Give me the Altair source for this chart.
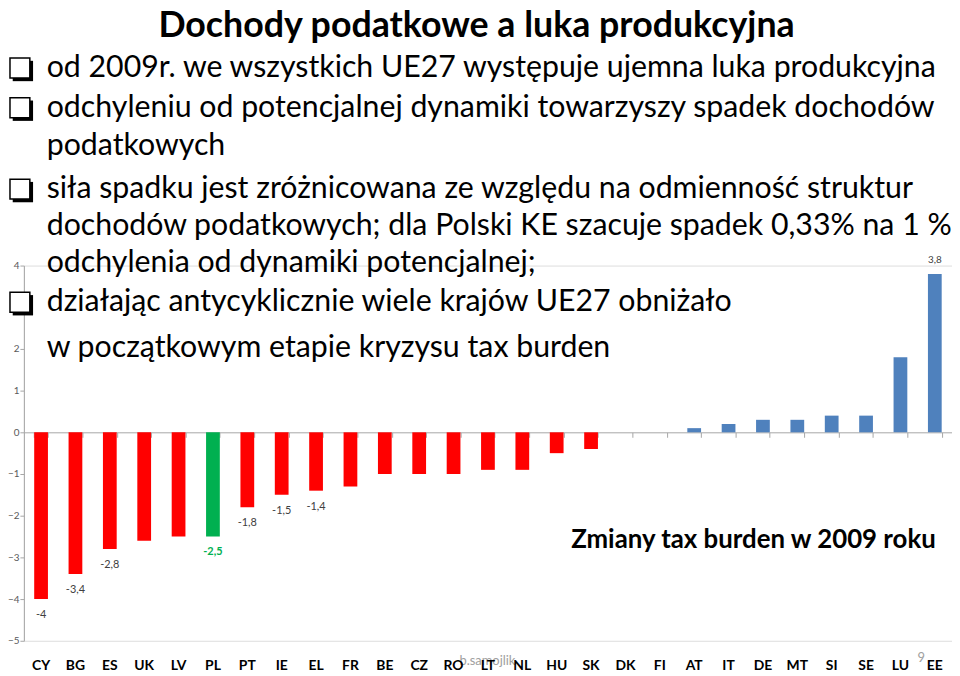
import altair as alt
import pandas as pd

countries = ["CY", "BG", "ES", "UK", "LV", "PL", "PT", "IE", "EL", "FR", "BE", "CZ", "RO", "LT",
             "NL", "HU", "SK", "DK", "FI", "AT", "IT", "DE", "MT", "SI", "SE", "LU", "EE"]
changes = [-4.0, -3.4, -2.8, -2.6, -2.5, -2.5, -1.8, -1.5, -1.4, -1.3, -1.0, -1.0, -1.0, -0.9,
           -0.9, -0.5, -0.4, 0.0, 0.0, 0.1, 0.2, 0.3, 0.3, 0.4, 0.4, 1.8, 3.8]
value_labels = ["-4", "-3,4", "-2,8", "", "", "-2,5", "-1,8", "-1,5", "-1,4"] + [""] * 17 + ["3,8"]
groups = ["decrease"] * 5 + ["poland"] + ["decrease"] * 11 + ["none"] * 2 + ["increase"] * 8
y_ticks = [-5, -4, -3, -2, -1, 0, 1, 2, 3, 4]

title_text = "Dochody podatkowe a luka produkcyjna"
bullet_lines = [
    "od 2009r. we wszystkich UE27 występuje ujemna luka produkcyjna",
    "odchyleniu od potencjalnej dynamiki towarzyszy spadek dochodów",
    "podatkowych",
    "siła spadku jest zróżnicowana ze względu na odmienność struktur",
    "dochodów podatkowych; dla Polski KE szacuje spadek 0,33% na 1 %",
    "odchylenia od dynamiki potencjalnej;",
    "działając antycyklicznie wiele krajów UE27 obniżało",
    "w początkowym etapie kryzysu tax burden",
]
chart_caption = "Zmiany tax burden w 2009 roku"
footer_author = "b.samojlik"
footer_page = "9"

df = pd.DataFrame({"country": countries, "change": changes, "label": value_labels, "group": groups})

W, H = 935, 378
GRAY = "#A6A6A6"

x_enc = alt.X("country:N", sort=countries,
              scale=alt.Scale(paddingInner=0.6, paddingOuter=0.3),
              axis=alt.Axis(orient="bottom", offset=-210, labels=False, ticks=True,
                            tickBand="extent", tickSize=5, tickColor=GRAY,
                            domainColor=GRAY, title=None, grid=False))
y_enc = alt.Y("change:Q",
              scale=alt.Scale(domain=[-5, 4], nice=False, zero=False),
              axis=alt.Axis(values=y_ticks, title=None, grid=False, labelFontSize=10,
                            labelColor="#595959", labelFont="Lato", tickSize=4,
                            tickColor=GRAY, domainColor=GRAY, labelPadding=1))

base = alt.Chart(df)
bars = base.mark_bar().encode(
    x=x_enc, y=y_enc,
    color=alt.Color("group:N",
                    scale=alt.Scale(domain=["decrease", "poland", "none", "increase"],
                                    range=["#FF0000", "#00B050", "#4F81BD", "#4F81BD"]),
                    legend=None),
)

neg_labels = base.transform_filter("datum.label != '' && datum.change < 0 && datum.group != 'poland'").mark_text(
    font="Lato", fontSize=11, color="#404040", baseline="middle", dy=16).encode(x=x_enc, y=y_enc, text="label:N")
pl_label = base.transform_filter("datum.group == 'poland'").mark_text(
    font="Lato", fontSize=11, fontWeight="bold", color="#00B050", baseline="middle", dy=16).encode(x=x_enc, y=y_enc, text="label:N")
pos_labels = base.transform_filter("datum.label != '' && datum.change > 0").mark_text(
    font="Lato", fontSize=10, color="#404040", baseline="middle", dy=-14).encode(x=x_enc, y=y_enc, text="label:N")

country_text = base.mark_text(font="Lato", fontSize=14, fontWeight="bold", color="black",
                              baseline="middle").encode(x=x_enc, y=alt.value(H + 25), text="country:N")


def txt(text, x, y, size, weight="normal", font="Lato", color="black", align="left", baseline="middle"):
    return alt.Chart(pd.DataFrame({"t": [text]})).mark_text(
        font=font, fontSize=size, fontWeight=weight, color=color, align=align, baseline=baseline
    ).encode(x=alt.value(x), y=alt.value(y), text="t:N")


def checkbox(cx, cy):
    shadow = alt.Chart(pd.DataFrame({"t": [0]})).mark_point(
        shape="square", size=420, filled=True, color="black", opacity=1
    ).encode(x=alt.value(cx + 3), y=alt.value(cy + 3))
    front = alt.Chart(pd.DataFrame({"t": [0]})).mark_point(
        shape="square", size=400, filled=True, fill="white", stroke="black", strokeWidth=1.5, opacity=1
    ).encode(x=alt.value(cx), y=alt.value(cy))
    return [shadow, front]


line_y = [-199, -159, -120, -77, -40, -3, 37, 83]
annotations = [txt(title_text, 456, -230, 36, weight="bold", align="center", baseline="alphabetic")]
for t, yy in zip(bullet_lines, line_y):
    annotations.append(txt(t, 23, yy, 30.5))
for yy in [line_y[0], line_y[1], line_y[3], line_y[6]]:
    annotations.extend(checkbox(-4, yy))
annotations.append(txt(chart_caption, 735, 277, 26, weight="bold", align="center"))
footer = [txt(footer_author, 467, 398, 13, color="#A0A0A0", align="center"),
          txt(footer_page, 904, 395, 13, color="#A0A0A0", align="center")]

chart = alt.layer(bars, neg_labels, pl_label, pos_labels, *footer, country_text, *annotations).properties(
    width=W, height=H,
    autosize=alt.AutoSizeParams(type="none"),
    padding={"left": 16, "top": 257, "right": 0, "bottom": 29},
).configure_view(strokeWidth=0, stroke="transparent").configure(background="white")

chart.save("out.html", embed_options={"renderer": "svg", "actions": False})
